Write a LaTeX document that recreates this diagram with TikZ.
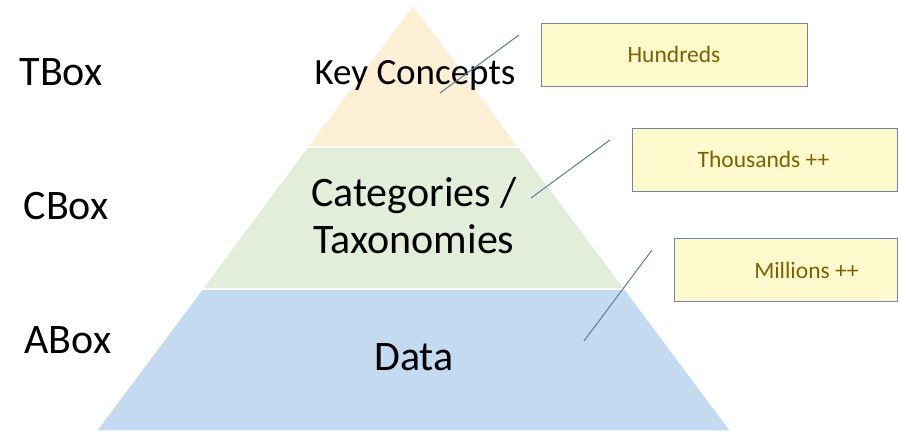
\documentclass[tikz,border=0pt]{standalone}
\usepackage{fontspec}
\setmainfont{Carlito}
\definecolor{topc}{HTML}{FDEFD3}
\definecolor{midc}{HTML}{E3EEDA}
\definecolor{botc}{HTML}{C4DAF0}
\definecolor{boxfill}{HTML}{FFFACD}
\definecolor{boxline}{HTML}{6F86A6}
\definecolor{boxtext}{HTML}{7F6000}
\definecolor{linec}{HTML}{5B7BA3}
\tikzset{
  layer/.style={draw=white, line width=1.5pt},
  callout/.style={draw=boxline, fill=boxfill, line width=1pt, minimum width=266pt, minimum height=63pt, inner sep=0pt, text=boxtext, font=\fontsize{23.5}{26}\selectfont},
  lbl/.style={font=\fontsize{42}{46}\selectfont, text=black, inner sep=0pt},
  big/.style={font=\fontsize{42}{47}\selectfont, text=black, inner sep=0pt, align=center}
  ,leader/.style={draw=linec, line width=1pt}
}
\begin{document}
\begin{tikzpicture}[x=1pt,y=-1pt]
\useasboundingbox (0,0) rectangle (898,434);
\fill[white] (0,0) rectangle (898,434);
% pyramid layers
\path[layer, fill=topc] (413,5) -- (519,147) -- (307,147) -- cycle;
\path[layer, fill=midc] (307,147) -- (519,147) -- (625,289) -- (202,289) -- cycle;
\path[layer, fill=botc] (202,289) -- (625,289) -- (731,431) -- (96,431) -- cycle;
% layer texts
\node[big, font=\fontsize{37}{42}\selectfont] (kc) at (415,75) {Key Concepts};
\node[big] (ct) at (414,216) {Categories /\\Taxonomies};
\node[big] (dt) at (414,357) {Data};
% left labels
\node[lbl] (tb) at (61,72) {TBox};
\node[lbl] (cb) at (66,206) {CBox};
\node[lbl] (ab) at (68,340) {ABox};
% callout boxes
\node[callout, minimum width=266pt] (hu) at (674,54.5) {Hundreds};
\node[callout, minimum width=265pt] (th) at (764.5,159.5) {\hspace*{-2pt}Thousands ++};
\node[callout, minimum width=223pt] (mi) at (785.5,270) {\hspace*{42pt}Millions ++};
% leader lines
\coordinate (l1a) at (440,93);
\coordinate (l1b) at (519,35);
\coordinate (l2a) at (531,198);
\coordinate (l2b) at (610,140);
\coordinate (l3a) at (584,341);
\coordinate (l3b) at (652,250);
\draw[leader] (l1a) -- (l1b);
\draw[leader] (l2a) -- (l2b);
\draw[leader] (l3a) -- (l3b);
\end{tikzpicture}
\end{document}
